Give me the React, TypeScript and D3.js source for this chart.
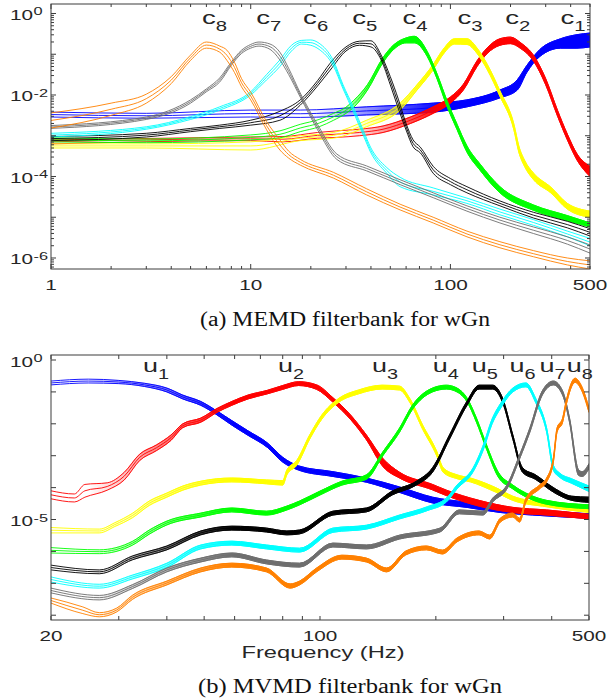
import React from 'react';
import * as d3 from 'd3';

type Pt = [number, number, number]; // [frequency, log10 upper, log10 lower]

const SANS = '"Liberation Sans", Arial, Helvetica, sans-serif';
const SERIF = '"Liberation Serif", "Times New Roman", serif';
const AXIS = '#3c3c3c';
const TXT = '#262626';

// ---------------- (a) MEMD ----------------
const memdXTicks = [1, 10, 100, 500];
const memdXTickLabels = ['1', '10', '100', '500'];
const memdYExps = [0, -2, -4, -6];
const memdNames = ['1', '2', '3', '4', '5', '6', '7', '8'];
const memdLabelFreq = [356, 188, 108.5, 57.5, 32.2, 18.3, 10.65, 5.71];
const memdColors = ['#0000ff', '#ff0000', '#ffff00', '#00ff00', '#000000', '#00ffff', '#6e6e6e', '#ff8000'];
const memdFillFrom = [20, 30, 30, 25, 1e9, 1e9, 1e9, 1e9];
const memdFillFull = [90, 90, 80, 50, 1e9, 1e9, 1e9, 1e9];

const memdC1: Pt[] = [[1, -2.42, -2.54], [3, -2.45, -2.57], [10, -2.37, -2.54], [17.7, -2.37, -2.55], [38, -2.29, -2.49], [82, -2.2, -2.42], [121, -2.12, -2.29], [177, -1.88, -2.07], [216, -1.63, -1.88], [241, -1.28, -1.45], [281, -0.88, -1.05], [356, -0.62, -0.85], [430, -0.52, -0.85], [500, -0.48, -0.82]];
const memdC2: Pt[] = [[1, -3.1, -3.2], [10, -3.03, -3.12], [14.5, -3.02, -3.15], [21.6, -2.92, -3.06], [27, -2.88, -3.04], [35, -2.84, -3.0], [46, -2.76, -2.92], [63, -2.54, -2.7], [82, -2.29, -2.45], [100, -2.05, -2.2], [116, -1.74, -1.88], [136, -1.16, -1.3], [153, -0.84, -0.98], [177, -0.62, -0.78], [200, -0.58, -0.74], [225, -0.72, -0.86], [261, -1.03, -1.17], [300, -1.6, -1.75], [344, -2.38, -2.52], [385, -2.96, -3.1], [431, -3.45, -3.6], [500, -3.75, -4.0]];
const memdC3: Pt[] = [[1, -3.2, -3.3], [3, -3.2, -3.3], [10, -3.15, -3.35], [17.7, -3.0, -3.12], [26, -2.92, -3.06], [38, -2.62, -2.78], [56, -2.2, -2.37], [68, -1.75, -1.88], [82, -1.25, -1.38], [92, -0.88, -1.0], [105, -0.62, -0.75], [121, -0.62, -0.76], [136, -0.85, -0.98], [153, -1.25, -1.38], [177, -1.9, -2.03], [208, -2.72, -2.86], [220, -3.25, -3.4], [235, -3.6, -3.75], [261, -3.92, -4.08], [318, -4.26, -4.4], [385, -4.66, -4.8], [500, -4.85, -5.0]];
const memdC4: Pt[] = [[1, -3.05, -3.15], [3, -3.08, -3.17], [10, -2.98, -3.1], [14, -2.88, -3.05], [17.7, -2.72, -2.9], [22, -2.6, -2.78], [26, -2.45, -2.62], [30, -2.3, -2.45], [33, -2.12, -2.29], [38.4, -1.75, -1.88], [46, -1.08, -1.2], [52, -0.77, -0.88], [60, -0.6, -0.72], [66, -0.56, -0.72], [76.5, -0.93, -1.05], [86, -1.5, -1.62], [96, -2.13, -2.27], [108, -2.72, -2.85], [121, -3.25, -3.4], [141, -3.7, -3.85], [177, -4.25, -4.4], [261, -4.7, -4.83], [385, -4.96, -5.08], [500, -5.14, -5.24]];
const memdC5: Pt[] = [[1, -3.02, -3.12], [3, -2.94, -3.03], [5, -2.82, -2.9], [7, -2.74, -2.82], [10, -2.62, -2.74], [14, -2.4, -2.62], [17.7, -2.12, -2.25], [21.6, -1.65, -1.78], [25, -1.22, -1.39], [30, -0.82, -0.92], [35, -0.68, -0.78], [40, -0.67, -0.82], [45, -1.02, -1.14], [50, -1.55, -1.75], [55, -2.12, -2.35], [60, -2.7, -2.86], [65, -3.1, -3.27], [70.7, -3.28, -3.42], [82, -3.75, -3.92], [100, -4.05, -4.2], [121, -4.25, -4.4], [177, -4.6, -4.72], [261, -4.88, -5.02], [385, -5.1, -5.26], [500, -5.28, -5.46]];
const memdC6: Pt[] = [[1, -2.94, -3.03], [3, -2.78, -2.84], [5, -2.53, -2.6], [7, -2.29, -2.37], [10, -1.92, -2.0], [12, -1.5, -1.63], [14, -1.14, -1.3], [16, -0.78, -0.92], [18, -0.66, -0.75], [20, -0.65, -0.78], [22, -0.73, -0.88], [25.9, -1.15, -1.28], [29, -1.75, -1.85], [32.7, -2.3, -2.42], [36.7, -2.88, -3.0], [39.8, -3.28, -3.4], [48, -3.78, -3.92], [56, -4.02, -4.25], [82, -4.28, -4.45], [121, -4.53, -4.66], [177, -4.8, -4.94], [261, -5.06, -5.2], [385, -5.34, -5.48], [500, -5.52, -5.7]];
const memdC7: Pt[] = [[1, -2.75, -2.82], [3, -2.54, -2.6], [5, -2.12, -2.2], [6, -1.85, -1.92], [7, -1.58, -1.68], [8, -1.19, -1.27], [9, -0.9, -0.98], [10, -0.76, -0.85], [11, -0.7, -0.8], [12.5, -0.75, -0.88], [14, -0.95, -1.14], [15.5, -1.35, -1.5], [17.7, -1.95, -2.05], [21.6, -2.72, -2.85], [27, -3.45, -3.58], [38, -3.74, -3.86], [56, -4.08, -4.2], [82, -4.4, -4.52], [121, -4.72, -4.85], [177, -5.0, -5.14], [261, -5.24, -5.4], [385, -5.48, -5.66], [500, -5.68, -5.88]];
const memdC8: Pt[] = [[1, -2.44, -2.81], [2, -2.2, -2.5], [3, -1.98, -2.2], [4, -1.55, -1.72], [5, -1.02, -1.15], [6, -0.7, -0.85], [7, -0.8, -0.95], [7.6, -0.9, -1.15], [8.3, -1.2, -1.45], [9, -1.6, -1.8], [10, -1.93, -2.12], [12, -2.65, -2.85], [14, -3.1, -3.35], [15.5, -3.38, -3.55], [17.7, -3.58, -3.72], [26, -3.9, -4.04], [38, -4.3, -4.45], [56, -4.68, -4.82], [82, -5.0, -5.14], [121, -5.34, -5.48], [177, -5.6, -5.75], [261, -5.82, -5.97], [385, -6.0, -6.17], [500, -6.07, -6.27]];
const memdSeries = [memdC1, memdC2, memdC3, memdC4, memdC5, memdC6, memdC7, memdC8];

// ---------------- (b) MVMD ----------------
const mvmdXTicks = [20, 100, 500];
const mvmdXTickLabels = ['20', '100', '500'];
const mvmdMinorXTicks = [20, 30, 40, 50, 60, 70, 80, 90, 100, 200, 300, 400, 500];
const mvmdYExps = [0, -5];
const mvmdNames = ['1', '2', '3', '4', '5', '6', '7', '8'];
const mvmdLabelFreq = [34.7, 77.8, 136.4, 196.4, 248, 310.6, 372, 437.5];
const mvmdColors = ['#0000ff', '#ff0000', '#ffff00', '#00ff00', '#000000', '#00ffff', '#6e6e6e', '#ff8000'];
const mvmdFillFrom = [25, 25, 25, 25, 25, 25, 25, 25];
const mvmdFillFull = [60, 60, 60, 60, 60, 60, 60, 60];

const mvmdU1: Pt[] = [[20, -0.66, -0.78], [25, -0.6, -0.72], [30, -0.64, -0.74], [35, -0.73, -0.83], [40, -0.88, -1.0], [44, -1.1, -1.22], [49, -1.3, -1.42], [54, -1.6, -1.72], [59, -1.9, -2.04], [65, -2.22, -2.36], [73, -2.6, -2.74], [80, -3.05, -3.2], [88, -3.32, -3.45], [108, -3.5, -3.65], [132, -3.7, -3.83], [161, -3.98, -4.15], [196, -4.3, -4.48], [241, -4.46, -4.62], [294, -4.62, -4.78], [357, -4.7, -4.86], [500, -4.82, -4.96]];
const mvmdU2: Pt[] = [[20, -4.1, -4.35], [23, -4.2, -4.45], [24.5, -3.9, -4.3], [28, -3.85, -4.08], [31, -3.52, -3.76], [34, -2.95, -3.15], [37.6, -2.66, -2.84], [41, -2.35, -2.52], [44, -2.0, -2.12], [49, -1.82, -1.95], [54, -1.52, -1.64], [59, -1.3, -1.42], [65, -1.1, -1.22], [73, -0.95, -1.06], [80, -0.8, -0.92], [88, -0.68, -0.8], [98, -0.78, -0.92], [108, -1.18, -1.32], [120, -1.72, -1.86], [132, -2.35, -2.5], [146, -3.1, -3.35], [161, -3.52, -3.7], [196, -3.9, -4.07], [213, -4.08, -4.25], [259, -4.4, -4.58], [317, -4.62, -4.78], [388, -4.7, -4.86], [500, -4.84, -4.98]];
const mvmdU3: Pt[] = [[20, -5.25, -5.42], [26.7, -5.3, -5.42], [29.3, -5.1, -5.22], [32.6, -4.8, -4.94], [36, -4.42, -4.56], [40, -4.17, -4.3], [44, -3.95, -4.08], [49, -3.8, -3.92], [59, -3.7, -3.82], [72.6, -3.76, -3.88], [80, -3.78, -3.92], [82, -3.45, -3.6], [87, -3.15, -3.3], [94, -2.35, -2.48], [101, -1.73, -1.86], [112, -1.2, -1.32], [126, -0.94, -1.06], [145, -0.79, -0.91], [161, -0.82, -0.94], [171, -1.2, -1.32], [185, -2.05, -2.18], [201, -2.86, -3.0], [209, -3.38, -3.52], [227, -3.6, -3.72], [246, -3.7, -3.82], [286, -4.0, -4.14], [317, -4.27, -4.4], [388, -4.48, -4.6], [500, -4.65, -4.78]];
const mvmdU4: Pt[] = [[20, -5.88, -6.05], [26.7, -5.95, -6.07], [32.6, -5.68, -5.8], [36, -5.33, -5.46], [40, -5.05, -5.17], [49, -4.8, -4.92], [59, -4.64, -4.76], [72.6, -4.74, -4.86], [82, -4.58, -4.7], [88.5, -4.42, -4.54], [100, -4.11, -4.23], [114, -3.8, -3.92], [132, -3.6, -3.74], [146, -2.86, -2.98], [161, -2.13, -2.26], [174, -1.41, -1.54], [196, -0.88, -1.0], [213, -0.79, -0.91], [227, -0.88, -1.0], [241, -1.19, -1.31], [255, -1.82, -1.95], [271, -2.67, -2.8], [290, -3.5, -3.65], [317, -3.92, -4.04], [351, -4.23, -4.35], [388, -4.4, -4.52], [500, -4.54, -4.66]];
const mvmdU5: Pt[] = [[20, -6.43, -6.58], [26.7, -6.58, -6.7], [32.6, -6.14, -6.26], [40, -5.83, -5.95], [49, -5.36, -5.48], [59, -5.21, -5.33], [72.6, -5.27, -5.39], [82, -5.36, -5.48], [88.5, -5.33, -5.45], [108, -4.74, -4.86], [132, -4.64, -4.76], [154, -4.11, -4.23], [178, -3.8, -3.92], [196, -3.38, -3.52], [217, -2.35, -2.48], [241, -1.29, -1.42], [259, -0.79, -0.91], [281, -0.79, -0.91], [298, -1.19, -1.32], [317, -2.35, -2.48], [336, -3.38, -3.52], [363, -3.6, -3.74], [404, -4.0, -4.14], [451, -4.27, -4.4], [500, -4.3, -4.46]];
const mvmdU6: Pt[] = [[20, -6.8, -6.96], [26.7, -7.03, -7.15], [32.6, -6.74, -6.86], [40, -6.37, -6.5], [49, -5.8, -5.92], [59, -5.68, -5.8], [72.6, -5.8, -5.92], [88.5, -5.9, -6.02], [108, -5.27, -5.4], [132, -5.18, -5.3], [161, -4.86, -4.98], [190, -4.6, -4.72], [213, -4.33, -4.45], [227, -3.92, -4.04], [250, -3.38, -3.5], [265, -2.7, -2.85], [280, -1.85, -2.0], [295, -1.35, -1.5], [317, -0.88, -1.0], [343, -0.72, -0.84], [363, -1.19, -1.32], [388, -2.13, -2.26], [404, -3.3, -3.45], [420, -3.55, -3.68], [450, -3.72, -3.86], [500, -3.95, -4.12]];
const mvmdU7: Pt[] = [[20, -7.15, -7.3], [26.7, -7.38, -7.52], [32.6, -7.04, -7.16], [40, -6.52, -6.64], [49, -6.21, -6.33], [59, -6.05, -6.17], [72.6, -6.27, -6.39], [88.5, -6.37, -6.49], [108, -5.74, -5.86], [132, -5.8, -5.92], [161, -5.49, -5.61], [205, -5.27, -5.39], [230, -4.7, -4.82], [265, -4.74, -4.86], [281, -4.33, -4.45], [306, -3.92, -4.04], [330, -2.98, -3.1], [351, -2.13, -2.26], [378, -0.97, -1.1], [404, -0.66, -0.78], [427, -0.97, -1.1], [445, -1.82, -1.95], [470, -3.45, -3.62], [480, -3.5, -3.65], [500, -3.25, -3.4]];
const mvmdU8: Pt[] = [[20, -7.46, -7.62], [24.2, -7.74, -7.95], [26.7, -7.92, -8.05], [29.6, -7.78, -7.9], [32.6, -7.37, -7.5], [40, -6.93, -7.05], [49, -6.52, -6.64], [59, -6.37, -6.49], [72.6, -6.52, -6.64], [83.6, -7.02, -7.15], [88.5, -6.93, -7.05], [98, -6.52, -6.64], [114, -6.12, -6.24], [132, -6.21, -6.33], [149, -6.52, -6.64], [167, -5.99, -6.11], [189, -5.83, -5.95], [208, -5.96, -6.08], [227, -5.58, -5.7], [259, -5.36, -5.48], [276, -5.49, -5.61], [294, -4.96, -5.08], [317, -4.8, -4.92], [330, -4.96, -5.08], [343, -4.33, -4.45], [372, -3.92, -4.04], [388, -3.7, -3.82], [404, -3.07, -3.2], [413, -2.13, -2.26], [427, -1.82, -1.95], [436, -1.29, -1.42], [460, -0.57, -0.7], [477, -0.79, -0.92], [500, -1.5, -1.64]];
const mvmdSeries = [mvmdU1, mvmdU2, mvmdU3, mvmdU4, mvmdU5, mvmdU6, mvmdU7, mvmdU8];

// ---------------- scales ----------------
const topX = d3.scaleLog().domain([1, 500]).range([51, 590]);
const topY = d3.scaleLog().domain([10 ** -6.27, 10 ** 0.233]).range([269, 4]);
const botX = d3.scaleLog().domain([20, 500]).range([51, 589]);
const botY = d3.scaleLog().domain([10 ** -8.15, 10 ** 0.157]).range([620, 355]);

type Sc = d3.ScaleLogarithmic<number, number>;

function Series({ id, pts, color, fillFrom, fillFull, x, y }: { id: string; pts: Pt[]; color: string; fillFrom: number; fillFull: number; x: Sc; y: Sc }) {
  const mk = (acc: (d: Pt) => number) =>
    d3.line<Pt>().x((d) => x(d[0])).y((d) => y(10 ** acc(d))).curve(d3.curveMonotoneX)(pts) || '';
  const hi = mk((d) => d[1]);
  const lo = mk((d) => d[2]);
  const mid = mk((d) => (d[1] + d[2]) / 2);
  const hasFill = fillFrom < 1e8;
  const area = hasFill
    ? d3.area<Pt>().x((d) => x(d[0])).y0((d) => y(10 ** d[2])).y1((d) => y(10 ** d[1])).curve(d3.curveMonotoneX)(pts)
    : null;
  return (
    <g>
      {hasFill && (
        <defs>
          <linearGradient id={id} gradientUnits="userSpaceOnUse" x1={x(fillFrom)} x2={x(fillFull)} y1={0} y2={0}>
            <stop offset="0" stopColor={color} stopOpacity={0} />
            <stop offset="1" stopColor={color} stopOpacity={1} />
          </linearGradient>
        </defs>
      )}
      {area && <path d={area} fill={`url(#${id})`} stroke={`url(#${id})`} strokeWidth={1} />}
      <path d={hi} fill="none" stroke={color} strokeWidth={0.9} />
      <path d={mid} fill="none" stroke={color} strokeWidth={0.9} />
      <path d={lo} fill="none" stroke={color} strokeWidth={0.9} />
    </g>
  );
}

function SText({ x, y, size, sx, anchor = 'start', children, family = SANS }: any) {
  return (
    <g transform={`translate(${x},${y}) scale(${sx},1)`}>
      <text fontFamily={family} fontSize={size} textAnchor={anchor} fill={TXT}>{children}</text>
    </g>
  );
}

function YLabel({ ty, exp }: { ty: number; exp: number }) {
  return (
    <g>
      <SText x={33} y={ty + 6.5} size={14} sx={1.48} anchor="end">10</SText>
      <SText x={33.5} y={ty + 2} size={11.5} sx={1.42}>{String(exp)}</SText>
    </g>
  );
}

function Frame({ x0, x1, y0, y1 }: { x0: number; x1: number; y0: number; y1: number }) {
  return <rect x={x0} y={y0} width={x1 - x0} height={y1 - y0} fill="none" stroke={AXIS} strokeWidth={1} />;
}

export default function App() {
  const topXMinor: number[] = [];
  [1, 10, 100].forEach((d) => { for (let k = 1; k <= 9; k++) { const v = k * d; if (v <= 500) topXMinor.push(v); } });
  const topYMinor: number[] = [];
  for (let e = -7; e <= 0; e++) for (let k = 1; k <= 9; k++) {
    const v = k * 10 ** e;
    if (v >= 10 ** -6.27 && v <= 10 ** 0.233) topYMinor.push(v);
  }
  const botYTicks: number[] = [];
  for (let e = -8; e <= 0; e++) botYTicks.push(10 ** e);

  const isDecade = (v: number) => Math.abs(Math.log10(v) - Math.round(Math.log10(v))) < 1e-6;

  return (
    <svg width={608} height={700} style={{ position: 'absolute', left: 0, top: 0, background: '#fff' }}>
      <defs>
        <clipPath id="clipTop"><rect x={51} y={4} width={539} height={265} /></clipPath>
        <clipPath id="clipBot"><rect x={51} y={355} width={538} height={265} /></clipPath>
      </defs>
      <rect x={0} y={0} width={608} height={700} fill="#fff" />

      {/* ---------- Panel (a) ---------- */}
      <g clipPath="url(#clipTop)">
        {memdSeries.map((pts, i) => (
          <Series key={i} id={`gt${i}`} pts={pts} color={memdColors[i]} fillFrom={memdFillFrom[i]} fillFull={memdFillFull[i]} x={topX} y={topY} />
        ))}
      </g>
      <Frame x0={51} x1={590} y0={4} y1={269} />
      {topXMinor.map((v, i) => {
        const L = isDecade(v) ? 5 : 3;
        const xx = topX(v);
        return (
          <g key={i} stroke={AXIS} strokeWidth={1}>
            <line x1={xx} x2={xx} y1={269} y2={269 - L} />
            <line x1={xx} x2={xx} y1={4} y2={4 + L} />
          </g>
        );
      })}
      {topYMinor.map((v, i) => {
        const L = isDecade(v) ? 5 : 3;
        const yy = topY(v);
        return (
          <g key={i} stroke={AXIS} strokeWidth={1}>
            <line x1={51} x2={51 + L} y1={yy} y2={yy} />
            <line x1={590} x2={590 - L} y1={yy} y2={yy} />
          </g>
        );
      })}
      {memdXTicks.map((v, i) => (
        <SText key={i} x={topX(v)} y={290} size={14} sx={1.48} anchor="middle">{memdXTickLabels[i]}</SText>
      ))}
      {memdYExps.map((e, i) => <YLabel key={i} ty={topY(10 ** e)} exp={e} />)}
      {memdNames.map((n, i) => (
        <g key={i} transform={`translate(${topX(memdLabelFreq[i])},24) scale(1.45,1)`}>
          <text fontFamily={SANS} fontSize={19} fill={TXT}>c<tspan fontSize={14} dy={7}>{n}</tspan></text>
        </g>
      ))}
      <text x={200} y={326} fontFamily={SERIF} fontSize={20} textLength={290} lengthAdjust="spacingAndGlyphs" fill="#111">(a) MEMD filterbank for wGn</text>

      {/* ---------- Panel (b) ---------- */}
      <g clipPath="url(#clipBot)">
        {mvmdSeries.map((pts, i) => (
          <Series key={i} id={`gb${i}`} pts={pts} color={mvmdColors[i]} fillFrom={mvmdFillFrom[i]} fillFull={mvmdFillFull[i]} x={botX} y={botY} />
        ))}
      </g>
      <Frame x0={51} x1={589} y0={355} y1={620} />
      {mvmdMinorXTicks.map((v, i) => {
        const xx = botX(v);
        return (
          <g key={i} stroke={AXIS} strokeWidth={1}>
            <line x1={xx} x2={xx} y1={620} y2={616} />
            <line x1={xx} x2={xx} y1={355} y2={359} />
          </g>
        );
      })}
      {botYTicks.map((v, i) => {
        const yy = botY(v);
        return (
          <g key={i} stroke={AXIS} strokeWidth={1}>
            <line x1={51} x2={56} y1={yy} y2={yy} />
            <line x1={589} x2={584} y1={yy} y2={yy} />
          </g>
        );
      })}
      {mvmdXTicks.map((v, i) => (
        <SText key={i} x={botX(v)} y={641} size={14} sx={1.48} anchor="middle">{mvmdXTickLabels[i]}</SText>
      ))}
      {mvmdYExps.map((e, i) => <YLabel key={i} ty={botY(10 ** e)} exp={e} />)}
      {mvmdNames.map((n, i) => (
        <g key={i} transform={`translate(${botX(mvmdLabelFreq[i])},372) scale(1.42,1)`}>
          <text fontFamily={SANS} fontSize={19} fill={TXT}>u<tspan fontSize={14} dy={7}>{n}</tspan></text>
        </g>
      ))}
      <SText x={323} y={658} size={16} sx={1.48} anchor="middle">Frequency (Hz)</SText>
      <text x={198} y={693} fontFamily={SERIF} fontSize={20} textLength={304} lengthAdjust="spacingAndGlyphs" fill="#111">(b) MVMD filterbank for wGn</text>
    </svg>
  );
}
